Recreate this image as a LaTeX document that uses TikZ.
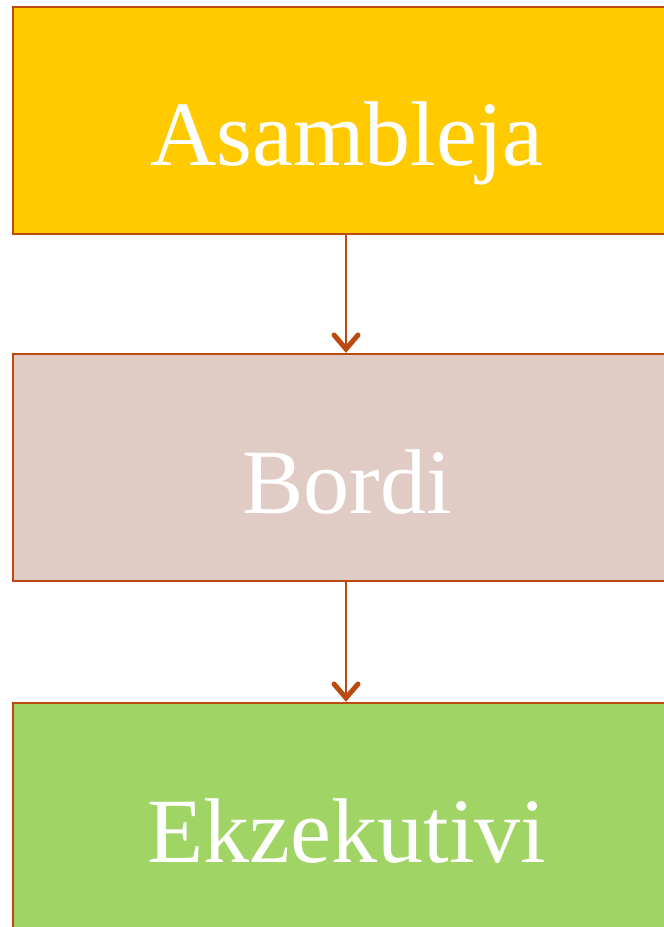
\documentclass[tikz,border=0pt]{standalone}
\usepackage{fontspec}
\setmainfont{Liberation Serif}
\usetikzlibrary{arrows.meta}
\definecolor{edge}{HTML}{BC4A10}
\definecolor{yel}{HTML}{FFCA00}
\definecolor{pnk}{HTML}{E0CBC5}
\definecolor{grn}{HTML}{A0D464}
\tikzset{
  x=1pt,y=1pt,
  box/.style={draw=edge, line width=2.4pt, minimum width=668pt, minimum height=227pt, inner sep=0pt},
  lbl/.style={text=white, font=\fontsize{92}{92}\selectfont, anchor=base, inner sep=0pt},
  link/.style={draw=edge, line width=1.8pt, -{Straight Barb[length=14pt,width=24pt,line width=5pt,line cap=round]}}
}
\begin{document}
\begin{tikzpicture}
\useasboundingbox (0,0) rectangle (664,-927);
\node[box, fill=yel] (asm) at (347,-120.5) {};
\node[box, fill=pnk] (brd) at (347,-467.5) {};
\node[box, fill=grn] (exe) at (347,-816.5) {};
\node[lbl] (t1) at (347,-165) {Asambleja};
\node[lbl] (t2) at (347,-513) {Bordi};
\node[lbl] (t3) at (347,-862) {Ekzekutivi};
\draw[link] (asm.south -| 346,0) -- (brd.north -| 346,0);
\draw[link] (brd.south -| 346,0) -- (exe.north -| 346,0);
\end{tikzpicture}
\end{document}
